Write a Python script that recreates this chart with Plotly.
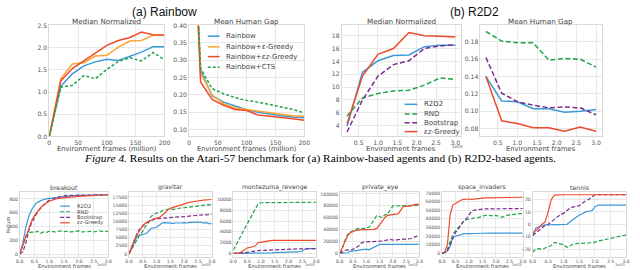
import plotly.graph_objects as go

W, H = 640, 270

# ------------------------------------------------------------------ data
RB_FRAMES = [0, 20, 40, 60, 80, 100, 120, 140, 160, 180, 200]
RB_NAMES = ["Rainbow", "Rainbow+<i>ε</i>-Greedy", "Rainbow+<i>εz</i>-Greedy", "Rainbow+CTS"]
RB_MEDIAN_RAINBOW = [0, 1.13, 1.41, 1.59, 1.68, 1.74, 1.71, 1.81, 1.90, 2.02, 2.02]
RB_MEDIAN_EGREEDY = [0, 1.30, 1.63, 1.66, 1.81, 1.83, 2.01, 2.15, 2.16, 2.28, 2.28]
RB_MEDIAN_EZGREEDY = [0, 1.25, 1.53, 1.70, 1.89, 2.05, 2.16, 2.23, 2.35, 2.29, 2.28]
RB_MEDIAN_CTS = [0, 1.11, 1.15, 1.37, 1.30, 1.51, 1.69, 1.77, 1.70, 1.89, 1.73]
RB_GAP_RAINBOW = [1.0, 0.271, 0.197, 0.179, 0.168, 0.157, 0.150, 0.144, 0.140, 0.136, 0.134]
RB_GAP_EGREEDY = [1.0, 0.262, 0.200, 0.174, 0.162, 0.157, 0.152, 0.148, 0.144, 0.140, 0.138]
RB_GAP_EZGREEDY = [1.0, 0.237, 0.187, 0.170, 0.158, 0.155, 0.142, 0.139, 0.136, 0.131, 0.127]
RB_GAP_CTS = [1.0, 0.276, 0.218, 0.203, 0.192, 0.184, 0.179, 0.172, 0.165, 0.158, 0.148]

R2_FRAMES = [0.2, 0.6, 1.0, 1.4, 1.8, 2.2, 2.6, 3.0]  # x 1e10
R2_NAMES = ["R2D2", "RND", "Bootstrap", "<i>εz</i>-Greedy"]
R2_MEDIAN_R2D2 = [3.9, 12.3, 14.1, 14.9, 15.0, 16.3, 16.5, 16.5]
R2_MEDIAN_RND = [5.5, 8.3, 9.0, 9.4, 9.5, 10.3, 11.4, 11.2]
R2_MEDIAN_BOOT = [3.0, 8.0, 11.7, 13.5, 14.1, 16.0, 16.4, 16.6]
R2_MEDIAN_EZ = [4.3, 11.7, 15.1, 16.0, 18.5, 18.0, 17.9, 17.8]
R2_GAP_R2D2 = [0.140, 0.112, 0.111, 0.103, 0.103, 0.099, 0.100, 0.102]
R2_GAP_RND = [0.192, 0.181, 0.179, 0.179, 0.159, 0.161, 0.160, 0.151]
R2_GAP_BOOT = [0.162, 0.121, 0.111, 0.107, 0.104, 0.105, 0.104, 0.096]
R2_GAP_EZ = [0.140, 0.089, 0.086, 0.081, 0.081, 0.077, 0.082, 0.077]

GAME_FRAMES = [0.0, 0.1, 0.2, 0.3, 0.4, 0.5, 0.6, 0.7, 0.8, 0.9, 1.0,
               1.1, 1.2, 1.3, 1.4, 1.5, 1.6, 1.7, 1.8, 1.9, 2.0,
               2.1, 2.2, 2.3, 2.4, 2.5, 2.6, 2.7, 2.8, 2.9, 3.0]  # x 1e10
GAMES = ["breakout", "gravitar", "montezuma_revenge", "private_eye", "space_invaders", "tennis"]

BREAKOUT_R2D2 = [0, 150, 380, 540, 640, 710, 750, 775, 790, 800, 805, 812, 820, 828, 835, 840, 842, 845, 847, 848, 850, 851, 852, 853, 854, 855, 856, 857, 858, 859, 860]
BREAKOUT_RND = [0, 140, 260, 300, 320, 310, 330, 300, 320, 315, 330, 325, 320, 330, 335, 325, 330, 320, 325, 330, 335, 320, 325, 330, 328, 322, 330, 335, 330, 325, 330]
BREAKOUT_BOOT = [0, 30, 150, 330, 450, 540, 610, 660, 710, 750, 780, 800, 815, 825, 835, 845, 850, 852, 853, 854, 855, 856, 856, 857, 857, 858, 858, 859, 859, 860, 860]
BREAKOUT_EZ = [0, 120, 260, 380, 480, 560, 620, 670, 710, 740, 765, 780, 795, 805, 812, 818, 822, 826, 830, 833, 836, 838, 840, 842, 845, 847, 850, 853, 855, 858, 860]

GRAVITAR_R2D2 = [0, 2000, 4000, 5500, 5800, 5900, 6200, 6800, 7900, 8000, 8200, 8800, 9500, 9600, 9500, 9300, 9400, 9500, 9400, 9500, 9600, 9500, 9700, 9700, 9800, 9800, 9800, 9500, 9600, 9300, 9300]
GRAVITAR_RND = [0, 1500, 3000, 4500, 6000, 7000, 8500, 9500, 11500, 12300, 12500, 12800, 13200, 13500, 13700, 13800, 13600, 13900, 14000, 14100, 14300, 14400, 14500, 14600, 14600, 14700, 14800, 14900, 15000, 15100, 15000]
GRAVITAR_BOOT = [0, 2000, 4200, 6500, 7800, 8700, 9300, 9800, 10300, 10600, 10800, 10900, 11000, 11100, 11200, 11200, 11300, 11300, 11400, 11400, 11500, 11500, 11600, 11600, 11700, 11800, 11900, 12000, 12000, 12100, 12200]
GRAVITAR_EZ = [0, 2500, 4500, 6000, 7500, 8800, 9500, 10000, 10500, 10800, 11000, 11200, 11800, 12800, 13500, 14000, 14300, 14600, 14900, 15200, 15400, 15700, 15900, 16000, 16200, 16300, 16400, 16500, 16600, 16650, 16700]

MONTEZUMA_R2D2 = [0, 0, 0, 0, 0, 0, 0, 0, 0, 0, 0, 50, 80, 100, 100, 150, 150, 170, 180, 200, 200, 230, 260, 280, 300, 400, 800, 900, 900, 900, 900]
MONTEZUMA_RND = [600, 1500, 2500, 3500, 4500, 5500, 6500, 7500, 8500, 9200, 9400, 9400, 9400, 9450, 9450, 9450, 9450, 9450, 9450, 9500, 9500, 9500, 9500, 9500, 9500, 9500, 9500, 9500, 9500, 9500, 9500]
MONTEZUMA_BOOT = [0, 0, 0, 50, 100, 200, 300, 350, 400, 500, 550, 580, 600, 600, 600, 650, 700, 730, 750, 780, 800, 830, 850, 850, 850, 850, 850, 850, 850, 880, 900]
MONTEZUMA_EZ = [0, 0, 50, 300, 700, 1000, 1100, 1300, 1400, 2000, 2100, 2100, 2300, 2400, 2400, 2400, 2400, 2400, 2400, 2400, 2400, 2400, 2400, 2400, 2400, 2400, 2400, 2400, 2400, 2400, 2400]

PRIVATE_EYE_R2D2 = [0, 0, 0, 1000, 3500, 4000, 4500, 5000, 5000, 6500, 7000, 6000, 8000, 11000, 13000, 15000, 15000, 15000, 15000, 15000, 15000, 15000, 15000, 15000, 15000, 15000, 15000, 15000, 15000, 15000, 15000]
PRIVATE_EYE_RND = [0, 8000, 22000, 32000, 36000, 38000, 40000, 42000, 41000, 42000, 43000, 44000, 50000, 56000, 64000, 62000, 60000, 65000, 66000, 73000, 80000, 80000, 80000, 80000, 80000, 80000, 80000, 80500, 80500, 81000, 81000]
PRIVATE_EYE_BOOT = [0, 3000, 5000, 6000, 5500, 7000, 9000, 12000, 17000, 19000, 19500, 19500, 20000, 20500, 20000, 20500, 21000, 22000, 23000, 23500, 22500, 22000, 23000, 24000, 24000, 24000, 24500, 25000, 27000, 29000, 29000]
PRIVATE_EYE_EZ = [0, 10000, 20000, 30000, 35000, 37000, 38500, 39000, 40000, 40000, 40000, 40000, 40500, 40500, 42000, 48000, 55000, 60000, 64000, 65000, 66000, 66000, 66500, 72000, 79000, 79000, 79000, 80000, 82000, 83000, 83000]

SPACE_INVADERS_R2D2 = [0, 1000, 3000, 8000, 19000, 20000, 21000, 22000, 22500, 23000, 22500, 22800, 23000, 23200, 23300, 23500, 24000, 23800, 23600, 23500, 23600, 23500, 23800, 23700, 23600, 23500, 23600, 23500, 23500, 23400, 23500]
SPACE_INVADERS_RND = [0, 1000, 5000, 14000, 22000, 26000, 30000, 34000, 37000, 39000, 40000, 40500, 41000, 41000, 42000, 43000, 44000, 44000, 43500, 43500, 44000, 43000, 42000, 42500, 44000, 44500, 45000, 45000, 46000, 46000, 46000]
SPACE_INVADERS_BOOT = [0, 1000, 3000, 10000, 18000, 24000, 28000, 33000, 37000, 40000, 45000, 49000, 50000, 50500, 51000, 51000, 51500, 51500, 51500, 51800, 52000, 52000, 52000, 52000, 52000, 52000, 52000, 52000, 52000, 52000, 52000]
SPACE_INVADERS_EZ = [0, 2000, 10000, 45000, 56000, 58000, 60000, 61500, 62500, 63000, 63000, 62500, 63000, 63500, 64000, 64000, 64200, 64300, 64400, 64500, 64500, 64600, 64700, 64800, 64800, 64900, 65000, 65000, 65000, 65000, 65000]

TENNIS_R2D2 = [-10, -3, -2, -1, -0.5, -0.5, -0.5, -0.5, -0.5, -0.5, -0.5, 0, 2, 4, 6, 7.5, 8.5, 10, 10.5, 11, 14, 15.5, 15.5, 15.5, 15.5, 15.5, 15.5, 15.5, 15.5, 15.5, 15.5]
TENNIS_RND = [-22.5, -20, -19.5, -20, -19, -18, -17, -14.5, -15, -16, -16.5, -18.5, -17, -16, -15.5, -15.5, -15, -15.5, -15, -14.5, -14.5, -13.5, -13, -12.5, -12, -11.5, -11, -10.5, -10, -9, -8.5]
TENNIS_BOOT = [-9, -7, -5, -3, -1, 0, 2, 4, 6, 8, 9, 11, 13, 14, 14.5, 15, 17, 19, 20, 22, 23.8, 23.8, 23.8, 23.8, 23.8, 23.8, 23.8, 23.8, 23.8, 23.8, 23.8]
TENNIS_EZ = [-7, -5, -3, 0, 2, 10, 20, 23.5, 23.8, 23.8, 23.8, 23.8, 23.8, 23.8, 23.8, 23.8, 23.8, 23.8, 23.8, 23.8, 23.8, 23.8, 23.8, 23.8, 23.8, 23.8, 23.8, 23.8, 23.8, 23.8, 23.8]

GAME_DATA = {
    "breakout": [BREAKOUT_R2D2, BREAKOUT_RND, BREAKOUT_BOOT, BREAKOUT_EZ],
    "gravitar": [GRAVITAR_R2D2, GRAVITAR_RND, GRAVITAR_BOOT, GRAVITAR_EZ],
    "montezuma_revenge": [MONTEZUMA_R2D2, MONTEZUMA_RND, MONTEZUMA_BOOT, MONTEZUMA_EZ],
    "private_eye": [PRIVATE_EYE_R2D2, PRIVATE_EYE_RND, PRIVATE_EYE_BOOT, PRIVATE_EYE_EZ],
    "space_invaders": [SPACE_INVADERS_R2D2, SPACE_INVADERS_RND, SPACE_INVADERS_BOOT, SPACE_INVADERS_EZ],
    "tennis": [TENNIS_R2D2, TENNIS_RND, TENNIS_BOOT, TENNIS_EZ],
}

# ------------------------------------------------------------------ style
BLUE = "#3a9ad9"
ORANGE = "#fba632"
RED = "#ee4b2b"
GREEN = "#22a34a"
PURPLE = "#7b2c8c"
FONT = "DejaVu Sans"
TXT = "#444444"
GRID = "#e8e8e8"
FRAME = "#d9d9d9"

RB_COLORS = [BLUE, ORANGE, RED, GREEN]
RB_DASH = ["solid", "solid", "solid", "3px,2px"]
R2_COLORS = [BLUE, GREEN, PURPLE, RED]
R2_DASH = ["solid", "5px,2.5px", "5px,2.5px", "solid"]
GAME_DASH = ["solid", "4px,2px", "4px,2px", "solid"]


def dom_x(a, b):
    return [a / W, b / W]


def dom_y(top, bot):
    return [1 - bot / H, 1 - top / H]


fig = go.Figure()
layout = dict(width=W, height=H, margin=dict(l=0, r=0, t=0, b=0), autosize=False,
              paper_bgcolor="white", plot_bgcolor="white", showlegend=False,
              font=dict(family=FONT, color=TXT))
annotations = []
shapes = []


def setup_axes(n, xd, yd, xr, yr, xt, yt, xfmt, yfmt, fs):
    common = dict(showgrid=True, gridcolor=GRID, gridwidth=0.8, zeroline=False,
                  showline=True, mirror=True, linecolor=FRAME, linewidth=0.8,
                  ticks="", tickfont=dict(size=fs, color="#555555", family=FONT))
    layout[f"xaxis{n}"] = dict(domain=dom_x(*xd), range=xr, tickvals=xt, tickformat=xfmt,
                               anchor=f"y{n}", **common)
    layout[f"yaxis{n}"] = dict(domain=dom_y(*yd), range=yr, tickvals=yt, tickformat=yfmt,
                               anchor=f"x{n}", **common)


def add_text(text, x, y, size, color=TXT, xanchor="center", yanchor="middle", angle=0,
             family=FONT):
    annotations.append(dict(text=text, x=x / W, y=1 - y / H, xref="paper", yref="paper",
                            showarrow=False, xanchor=xanchor, yanchor=yanchor, textangle=angle,
                            borderpad=0,
                            font=dict(size=size, color=color, family=family)))


def add_legend(x0, ys, seg, names, colors, dashes, width, fs):
    for yy, nm, c, d in zip(ys, names, colors, dashes):
        shapes.append(dict(type="line", xref="paper", yref="paper",
                           x0=x0 / W, x1=(x0 + seg) / W, y0=1 - yy / H, y1=1 - yy / H,
                           line=dict(color=c, width=width, dash=d)))
        add_text(nm, x0 + seg + 6, yy, fs, xanchor="left")


# ---------------------------------------------------------- top row
TOP_Y = (22, 136)

# (a) Rainbow – median normalized
setup_axes(1, (46, 163), TOP_Y, [0, 200], [0, 2.5], [0, 50, 100, 150, 200],
           [0, 0.5, 1.0, 1.5, 2.0, 2.5], "d", ".1f", 6.1)
for nm, ys, c, d in zip(RB_NAMES, [RB_MEDIAN_RAINBOW, RB_MEDIAN_EGREEDY, RB_MEDIAN_EZGREEDY, RB_MEDIAN_CTS],
                        RB_COLORS, RB_DASH):
    fig.add_trace(go.Scatter(x=RB_FRAMES, y=ys, name=nm, mode="lines", xaxis="x1", yaxis="y1",
                             line=dict(color=c, width=1.5, dash=d)))

# (a) Rainbow – mean human gap
setup_axes(2, (188, 305), TOP_Y, [0, 200], [0.08, 0.40], [0, 50, 100, 150, 200],
           [0.10, 0.15, 0.20, 0.25, 0.30, 0.35, 0.40], "d", ".2f", 6.1)
for nm, ys, c, d in zip(RB_NAMES, [RB_GAP_RAINBOW, RB_GAP_EGREEDY, RB_GAP_EZGREEDY, RB_GAP_CTS],
                        RB_COLORS, RB_DASH):
    fig.add_trace(go.Scatter(x=RB_FRAMES, y=ys, name=nm, mode="lines", xaxis="x2", yaxis="y2",
                             line=dict(color=c, width=1.5, dash=d)))

# (b) R2D2 – median normalized
setup_axes(3, (343, 464), TOP_Y, [0.06, 3.14], [2.3, 19.6], [0.5, 1.0, 1.5, 2.0, 2.5, 3.0],
           [4, 6, 8, 10, 12, 14, 16, 18], ".1f", "d", 6.1)
for nm, ys, c, d in zip(R2_NAMES, [R2_MEDIAN_R2D2, R2_MEDIAN_RND, R2_MEDIAN_BOOT, R2_MEDIAN_EZ],
                        R2_COLORS, R2_DASH):
    fig.add_trace(go.Scatter(x=R2_FRAMES, y=ys, name=nm, mode="lines", xaxis="x3", yaxis="y3",
                             line=dict(color=c, width=1.5, dash=d)))

# (b) R2D2 – mean human gap
setup_axes(4, (484, 607), TOP_Y, [0.06, 3.14], [0.071, 0.199], [0.5, 1.0, 1.5, 2.0, 2.5, 3.0],
           [0.08, 0.10, 0.12, 0.14, 0.16, 0.18], ".1f", ".2f", 6.1)
for nm, ys, c, d in zip(R2_NAMES, [R2_GAP_R2D2, R2_GAP_RND, R2_GAP_BOOT, R2_GAP_EZ],
                        R2_COLORS, R2_DASH):
    fig.add_trace(go.Scatter(x=R2_FRAMES, y=ys, name=nm, mode="lines", xaxis="x4", yaxis="y4",
                             line=dict(color=c, width=1.5, dash=d)))

# titles / labels top row
add_text("(a) Rainbow", 163, 8.5, 12, color="#111111", family="Liberation Sans")
add_text("(b) R2D2", 478, 8.5, 12, color="#111111", family="Liberation Sans")
for xc, t in [(104.5, "Median Normalized"), (246.5, "Mean Human Gap"),
              (403.5, "Median Normalized"), (545.5, "Mean Human Gap")]:
    add_text(t, xc, 18, 7.2)
for xc, t in [(104.5, "Environment frames (million)"), (246.5, "Environment frames (million)"),
              (403.5, "Environment frames"), (545.5, "Environment frames")]:
    add_text(t, xc, 148.5, 6.8)
add_text("1e10", 461, 146, 4.2, color="#555555")

add_legend(207, [33, 44, 54, 65], 12, RB_NAMES, RB_COLORS, RB_DASH, 1.5, 7)
add_legend(407, [103, 113, 122, 131], 13, R2_NAMES, R2_COLORS, R2_DASH, 1.5, 7)

add_text("<i>Figure 4.</i> Results on the Atari-57 benchmark for (a) Rainbow-based agents and (b) R2D2-based agents.",
         321, 158.5, 11.4, color="#000000", family="Liberation Serif")

# ---------------------------------------------------------- bottom row
BOT_Y = (193, 259.5)
GAME_XD = [(16, 106), (127, 211), (233, 317), (341, 422), (445, 527), (537, 632)]
GAME_YR = [[-40, 900], [-840, 19000], [-630, 11400], [-5700, 103300], [-3950, 71100], [-26.1, 26]]
GAME_YT = [[0, 200, 400, 600, 800],
           [0, 2500, 5000, 7500, 10000, 12500, 15000, 17500],
           [0, 2000, 4000, 6000, 8000, 10000],
           [0, 20000, 40000, 60000, 80000, 100000],
           [0, 10000, 20000, 30000, 40000, 50000, 60000, 70000],
           [-20, -10, 0, 10, 20]]

for i, g in enumerate(GAMES):
    n = 5 + i
    setup_axes(n, GAME_XD[i], BOT_Y, [0, 3.0], GAME_YR[i],
               [0.0, 0.5, 1.0, 1.5, 2.0, 2.5, 3.0], GAME_YT[i], ".1f", "d", 4.6)
    for nm, ys, c, d in zip(R2_NAMES, GAME_DATA[g], R2_COLORS, GAME_DASH):
        fig.add_trace(go.Scatter(x=GAME_FRAMES, y=ys, name=nm, mode="lines",
                                 xaxis=f"x{n}", yaxis=f"y{n}",
                                 line=dict(color=c, width=1.2, dash=d)))
    xa, xb = GAME_XD[i]
    add_text(g, (xa + xb) / 2, 188, 6.2)
    add_text("Environment frames", (xa + xb) / 2, 268.5, 5.2)
    add_text("1e10", xb, 267, 3.8, color="#555555", xanchor="right")

add_text("Return", 4, 226, 5, angle=-90)
add_legend(57, [207.5, 213.3, 219, 224.6], 10, R2_NAMES, R2_COLORS, GAME_DASH, 1.2, 5.2)

layout["annotations"] = annotations
layout["shapes"] = shapes
fig.update_layout(**layout)
fig.write_html("out.html", config={"displayModeBar": False},
               post_script="document.body.style.margin='0px';")
